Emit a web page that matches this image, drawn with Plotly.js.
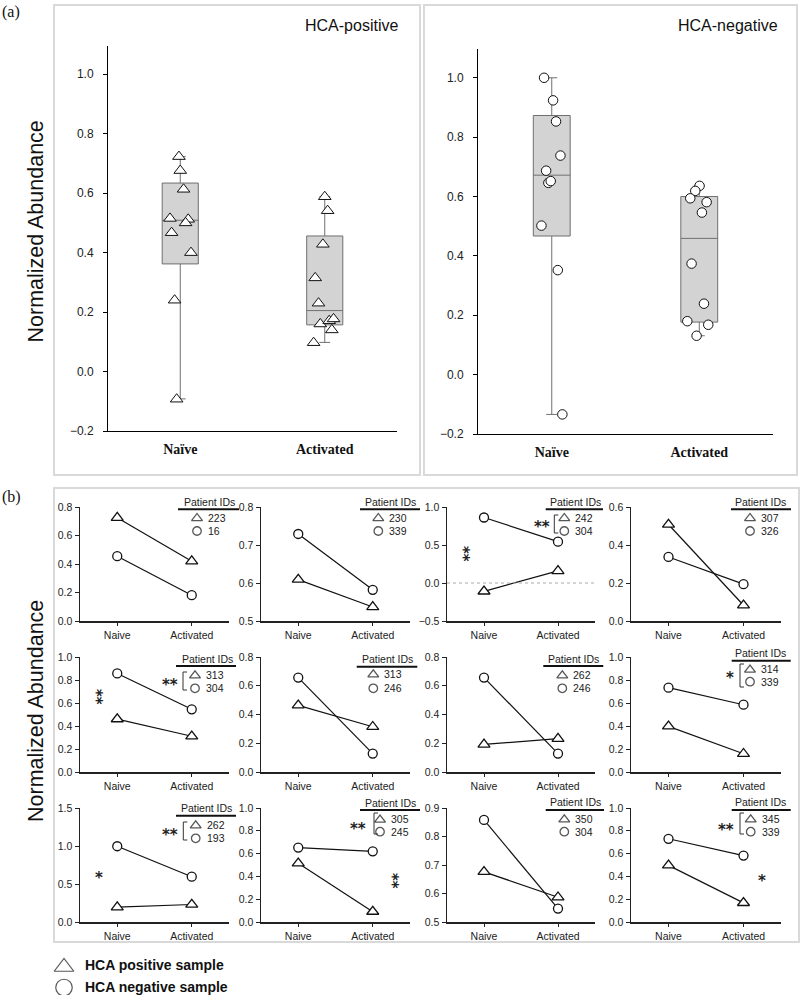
<!DOCTYPE html>
<html><head><meta charset="utf-8">
<script src="https://cdn.plot.ly/plotly-3.0.1.min.js"></script>
<style>body{margin:0;background:#fff}#chart{width:800px;height:995px}</style>
</head><body><div id="chart"></div>
<script>
// ---------------- DATA ----------------
const boxCategories = ['Naïve', 'Activated'];
const panelTitles = ['HCA-positive', 'HCA-negative'];

// (a) HCA-positive
const posNaive = [0.723, 0.676, 0.613, 0.515, 0.512, 0.500, 0.467, 0.400, 0.240, -0.093];
const posNaiveJitter = [-0.009, 0, 0.023, -0.071, 0.055, 0.037, -0.060, 0.074, -0.039, -0.025];
const posActivated = [0.588, 0.541, 0.428, 0.315, 0.230, 0.160, 0.171, 0.177, 0.140, 0.097];
const posActivatedJitter = [0, 0.020, -0.013, -0.066, -0.043, -0.031, 0.031, 0.061, 0.049, -0.077];
const posQ1 = [0.362, 0.157];
const posMedian = [0.509, 0.205];
const posQ3 = [0.634, 0.456];
const posLowerFence = [-0.092, 0.098];
const posUpperFence = [0.723, 0.588];

// (a) HCA-negative
const negNaive = [1.000, 0.924, 0.853, 0.738, 0.687, 0.646, 0.652, 0.502, 0.352, -0.134];
const negNaiveJitter = [-0.052, 0.009, 0.029, 0.059, -0.038, -0.023, -0.007, -0.070, 0.041, 0.072];
const negActivated = [0.636, 0.619, 0.594, 0.581, 0.546, 0.374, 0.239, 0.180, 0.168, 0.131];
const negActivatedJitter = [0.002, -0.027, -0.061, 0.050, 0.018, -0.052, 0.032, -0.081, 0.061, -0.018];
const negQ1 = [0.467, 0.177];
const negMedian = [0.672, 0.459];
const negQ3 = [0.873, 0.600];
const negLowerFence = [-0.134, 0.131];
const negUpperFence = [1.000, 0.636];

// (b) paired panels
const pairCategories = ['Naive', 'Activated'];
const legendHeading = 'Patient IDs';
const patientPos = ['223', '230', '242', '307', '313', '313', '262', '314', '262', '305', '350', '345'];
const patientNeg = ['16', '339', '304', '326', '304', '246', '246', '339', '193', '245', '304', '339'];
const posPairNaive = [0.725, 0.609, -0.110, 0.508, 0.460, 0.464, 0.192, 0.397, 0.195, 0.515, 0.676, 0.497];
const posPairActivated = [0.420, 0.537, 0.159, 0.083, 0.311, 0.315, 0.232, 0.159, 0.230, 0.091, 0.587, 0.168];
const negPairNaive = [0.455, 0.729, 0.862, 0.337, 0.857, 0.657, 0.657, 0.733, 0.997, 0.653, 0.858, 0.730];
const negPairActivated = [0.181, 0.582, 0.544, 0.194, 0.545, 0.128, 0.128, 0.585, 0.596, 0.620, 0.547, 0.583];
const bracketStars = ['', '', '**', '', '**', '', '', '*', '**', '**', '', '**'];
const legendLabels = ['HCA positive sample', 'HCA negative sample'];
const yTitle = 'Normalized Abundance';

// ---------------- STYLE / LAYOUT CONFIG ----------------
const SANS = '"Liberation Sans", Arial, sans-serif';
const NARROW = '"Liberation Sans Narrow", "Arial Narrow", "Liberation Sans", Arial, sans-serif';
const SMALL = 10.5;
const SERIF = '"Liberation Serif", "Times New Roman", serif';
const W = 800, H = 995;
const X = p => p / W, Y = p => 1 - p / H;

const pairYRange = [[0,0.8],[0.5,0.8],[-0.5,1.0],[0,0.6],[0,1.0],[0,0.8],[0,0.8],[0,1.0],[0,1.5],[0,1.0],[0.5,0.9],[0,1.0]];
const pairDtick = [0.2,0.1,0.5,0.2,0.2,0.2,0.2,0.2,0.5,0.2,0.1,0.2];
const colPx = [[80,229],[261,410],[447,595],[631,781]];
const rowPx = [[507,621],[657,772],[808,922]];
// legend placement: [headingX, headingY, ulX0, ulX1, ulY, markerX, entryY1, entryY2]
const legPos = [
  [209.5,501.7,178,239,509.3,197,517.7,531],
  [390.5,501.7,360,420,509.3,378.3,517.7,531],
  [575.5,501.7,545.7,603,509.3,564.3,517.7,531],
  [760.5,501.7,731,791,509.3,750,517.7,531],
  [207,659,176,236,666,195,675,688.3],
  [387.5,659,356.7,417.3,666.7,373.3,674,688.3],
  [573,659,543.3,603.3,666,562.3,675,688.3],
  [760.5,653.3,731.7,790.7,660.7,750,669.3,681.7],
  [206.5,808.3,176,236,815.7,195.7,825,838.3],
  [390,802.7,360,420,810,380,819.3,831.7],
  [575.5,802.3,545.7,604,810,564.3,819,831.7],
  [760.5,802.3,731.7,790.7,810,750.7,819,831.7]
];
// bracket placement: [bracketX, y0, y1, starsX, starsY]
const bracketPos = {2:[554.3,515,533,541.7,524.3], 4:[183,672,690,170,681.7], 7:[740,664,687,730,675],
                    8:[183.3,822,840,170,831.7], 9:[374,813,834,358.3,825.7], 11:[740,813,834,726,827.3]};
// extra stars: [text, x, y, angle]
const extraStars = [['**',466,554,90],['**',99,697,90],['*',99,875,0],['**',395,881,90],['*',761.7,878.3,0]];

const traces = [];
const annotations = [];
const shapes = [];
const layout = {
  width: W, height: H, margin: {l:0, r:0, t:0, b:0},
  paper_bgcolor: '#ffffff', plot_bgcolor: 'rgba(0,0,0,0)', showlegend: false,
  font: {family: SANS, color: '#222'}
};

layout.xaxis15 = {domain:[0,1], range:[0,W], visible:false, fixedrange:true};
layout.yaxis15 = {domain:[0,1], range:[H,0], visible:false, fixedrange:true};
const OV = {xref:'x15', yref:'y15'};

function txt(text, x, y, size, opts) {
  annotations.push(Object.assign({text, x, y, xref:'x15', yref:'y15', showarrow:false,
    xanchor:'center', yanchor:'middle', font:{family:SANS, size, color:'#222'}}, opts||{}));
}
const STARFONT = {family:'"DejaVu Sans", sans-serif', size:15, color:'#222', weight:'bold'};
const SMALLFONT = {family:NARROW, size:SMALL, color:'#222'};

// ---------------- (a) box panels ----------------
function boxPanel(n, q1, med, q3, lf, uf, naive, nj, act, aj, symbol, dom, yr) {
  const xa = n===1 ? 'x' : 'x'+n, ya = n===1 ? 'y' : 'y'+n;
  traces.push({type:'box', xaxis:xa, yaxis:ya, x:[0,1], q1, median:med, q3, lowerfence:lf, upperfence:uf,
    width:0.25, whiskerwidth:0.3, fillcolor:'#d3d3d3', line:{color:'#6f6f6f', width:1}, boxpoints:false, hoverinfo:'skip'});
  traces.push({type:'scatter', mode:'markers', xaxis:xa, yaxis:ya,
    x: naive.map((v,i)=>0+nj[i]).concat(act.map((v,i)=>1+aj[i])),
    y: naive.concat(act), cliponaxis:false,
    marker:{symbol, size: symbol==='circle' ? 9.5 : 11, color:'#fff', line:{color:'#111', width:1}}});
  layout['xaxis'+(n===1?'':n)] = {domain:[X(dom[0]),X(dom[1])], range:[-0.5,1.5], tickvals:[0,1], ticktext:boxCategories,
    showline:true, linecolor:'#000', linewidth:1, ticks:'', showgrid:false, zeroline:false, fixedrange:true,
    tickfont:{family:SERIF, size:14, color:'#111', weight:'bold'}, ticklabelstandoff:5, anchor:ya};
  layout['yaxis'+(n===1?'':n)] = {domain:[Y(dom[3]),Y(dom[2])], range:yr, tick0:-0.2, dtick:0.2, tickformat:'.1f',
    showline:true, linecolor:'#000', linewidth:1, ticks:'outside', ticklen:4, tickcolor:'#000', showgrid:false, zeroline:false,
    fixedrange:true, tickfont:{family:SANS, size:12, color:'#222'}, ticklabelstandoff:7, anchor:xa};
}
boxPanel(1, posQ1, posMedian, posQ3, posLowerFence, posUpperFence, posNaive, posNaiveJitter, posActivated, posActivatedJitter,
  'triangle-up', [108,397,46,431], [-0.2,1.095]);
boxPanel(2, negQ1, negMedian, negQ3, negLowerFence, negUpperFence, negNaive, negNaiveJitter, negActivated, negActivatedJitter,
  'circle', [478,773,49,434], [-0.2,1.097]);

// ---------------- (b) paired panels ----------------
for (let i = 0; i < 12; i++) {
  const n = i + 3, xa = 'x'+n, ya = 'y'+n;
  const r = Math.floor(i/4), c = i % 4;
  traces.push({type:'scatter', mode:'lines+markers', xaxis:xa, yaxis:ya, x:pairCategories,
    y:[posPairNaive[i], posPairActivated[i]], cliponaxis:false,
    line:{color:'#111', width:1.2}, marker:{symbol:'triangle-up', size:10.5, color:'#fff', line:{color:'#111', width:1.3}}});
  traces.push({type:'scatter', mode:'lines+markers', xaxis:xa, yaxis:ya, x:pairCategories,
    y:[negPairNaive[i], negPairActivated[i]], cliponaxis:false,
    line:{color:'#111', width:1.2}, marker:{symbol:'circle', size:9, color:'#fff', line:{color:'#111', width:1.3}}});
  layout['xaxis'+n] = {domain:[X(colPx[c][0]), X(colPx[c][1])], type:'category', range:[-0.5,1.5],
    showline:true, linecolor:'#222', linewidth:1.5, ticks:'outside', ticklen:3, tickcolor:'#222', showgrid:false, zeroline:false,
    fixedrange:true, tickfont:SMALLFONT, ticklabelstandoff:1, anchor:ya};
  layout['yaxis'+n] = {domain:[Y(rowPx[r][1]), Y(rowPx[r][0])], range:pairYRange[i], tick0:pairYRange[i][0], dtick:pairDtick[i],
    tickformat:'.1f', showline:true, linecolor:'#222', linewidth:1.5, ticks:'outside', ticklen:4, tickcolor:'#222',
    showgrid:false, zeroline:false, fixedrange:true, tickfont:SMALLFONT, anchor:xa};

  const L = legPos[i];
  txt(legendHeading, L[0], L[1], SMALL, {font:SMALLFONT});
  shapes.push(Object.assign({type:'line', x0:L[2], x1:L[3], y0:L[4], y1:L[4], line:{color:'#111', width:2}}, OV));
  txt(patientPos[i], L[5]+9, L[6], SMALL, {xanchor:'left', font:SMALLFONT});
  txt(patientNeg[i], L[5]+9, L[7], SMALL, {xanchor:'left', font:SMALLFONT});
  traces.push({type:'scatter', mode:'markers', xaxis:'x15', yaxis:'y15', x:[L[5], L[5]], y:[L[6]+0.5, L[7]], cliponaxis:false,
    hoverinfo:'skip', marker:{symbol:['triangle-up','circle'], size:[9.5,8.5], color:'#fff', line:{color:'#111', width:1.3}}});

  if (bracketStars[i]) {
    const B = bracketPos[i];
    shapes.push(Object.assign({type:'path', path:`M ${B[0]+4} ${B[1]} L ${B[0]} ${B[1]} L ${B[0]} ${B[2]} L ${B[0]+4} ${B[2]}`,
      line:{color:'#333', width:1}}, OV));
    txt(bracketStars[i], B[3], B[4]+3, 15, {font:STARFONT});
  }
}
shapes.push({type:'line', xref:'x5 domain', yref:'y5', x0:0, x1:1, y0:0, y1:0, line:{color:'#aaa', width:1, dash:'dot'}});

extraStars.forEach(s => txt(s[0], s[1]+(s[3]?-3:0), s[2]+(s[3]?0:3), 15, {textangle:s[3], font:STARFONT}));

// frames
shapes.push(Object.assign({type:'rect', x0:54, x1:420, y0:5, y1:475, line:{color:'#d9d9d9', width:2}}, OV));
shapes.push(Object.assign({type:'rect', x0:424, x1:797, y0:5, y1:475, line:{color:'#d9d9d9', width:2}}, OV));
shapes.push(Object.assign({type:'rect', x0:54, x1:799, y0:488, y1:942, line:{color:'#d9d9d9', width:2}}, OV));

// texts
txt('(a)', 0, 12, 16, {xanchor:'left', font:{family:SERIF, size:16, color:'#111'}});
txt('(b)', 0, 497, 16, {xanchor:'left', font:{family:SERIF, size:16, color:'#111'}});
txt(panelTitles[0], 351, 25, 16, {font:{family:SANS, size:16, color:'#111'}});
txt(panelTitles[1], 728, 25, 16, {font:{family:SANS, size:16, color:'#111'}});
txt(yTitle, 35, 231.5, 21.5, {textangle:-90, font:{family:SANS, size:21.5, color:'#111'}});
txt(yTitle, 36, 711, 21.5, {textangle:-90, font:{family:SANS, size:21.5, color:'#111'}});

// bottom legend
traces.push({type:'scatter', mode:'markers', xaxis:'x15', yaxis:'y15', x:[64, 64], y:[967, 987.5], cliponaxis:false, hoverinfo:'skip',
  marker:{symbol:['triangle-up','circle'], size:[17,16.5], color:'#fff', line:{color:'#111', width:1.2}}});
txt('<b>' + legendLabels[0] + '</b>', 83, 965, 14, {xanchor:'left', font:{family:SANS, size:14, color:'#111'}});
txt('<b>' + legendLabels[1] + '</b>', 83, 987, 14, {xanchor:'left', font:{family:SANS, size:14, color:'#111'}});

layout.annotations = annotations;
layout.shapes = shapes;
Plotly.newPlot('chart', traces, layout, {displayModeBar:false, staticPlot:true});
</script></body></html>
